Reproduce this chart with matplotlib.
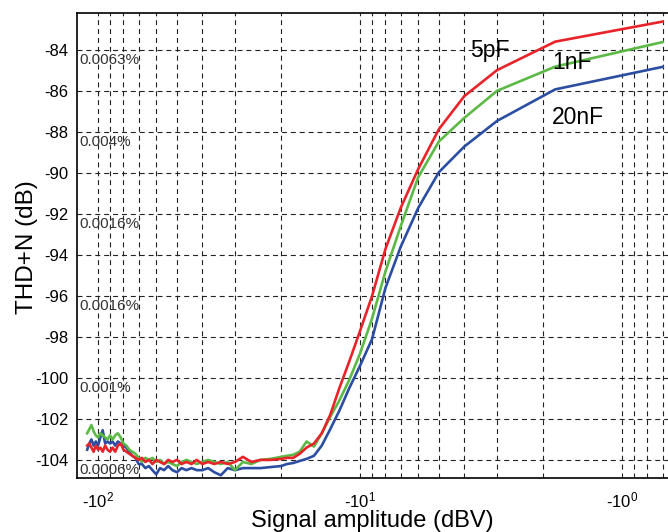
import matplotlib
matplotlib.use('Agg')
import matplotlib.pyplot as plt
from matplotlib.ticker import LogLocator, FixedLocator, FuncFormatter, NullFormatter
import numpy as np

plt.rcParams['font.family'] = ['Liberation Sans', 'DejaVu Sans']
plt.rcParams['mathtext.fontset'] = 'custom'
plt.rcParams['mathtext.rm'] = 'Liberation Sans'
plt.rcParams['mathtext.it'] = 'Liberation Sans'
plt.rcParams['axes.unicode_minus'] = False

# signal amplitude (dBV) - 2 dB steps in the noise floor, 1 dB steps on the rise
sig = [-110, -108, -106, -104, -102, -100, -98, -96, -94, -92,
       -90, -88, -86, -84, -82, -80, -78, -76, -74, -72,
       -70, -68, -66, -64, -62, -60, -58, -56, -54, -52,
       -50, -48, -46, -44, -42, -40, -38, -36, -34, -32,
       -30, -28, -26, -24, -22, -20, -19, -18, -17, -16,
       -15, -14, -13, -12, -11, -10, -9, -8, -7, -6,
       -5, -4, -3, -1.8, -0.7]

thd_5pF = [-103.3, -103.2, -103.4, -103.6, -103.3, -103.5, -103.4, -103.6, -103.3, -103.5,
           -103.6, -103.4, -103.6, -103.3, -103.2, -103.5, -103.6, -103.7, -103.8, -103.9,
           -104.0, -103.9, -104.1, -104.0, -104.2, -104.0, -104.1, -104.2, -104.0, -104.1,
           -104.0, -104.2, -104.1, -104.2, -104.0, -104.2, -104.1, -104.2, -104.1, -104.2,
           -104.1, -103.85, -104.1, -104.0, -104.0, -103.95, -103.9, -103.9, -103.7, -103.4,
           -103.2, -102.7, -101.8, -100.5, -99.2, -97.7, -96.0, -93.7, -91.7, -89.8,
           -87.85, -86.24, -84.97, -83.58, -82.6]

thd_1nF = [-102.7, -102.5, -102.3, -102.6, -102.8, -102.9, -102.7, -102.8, -102.9, -103.0,
           -102.8, -103.0, -102.8, -102.7, -102.9, -103.2, -103.3, -103.5, -103.6, -103.7,
           -103.9, -104.1, -103.9, -104.0, -103.9, -104.1, -104.0, -104.2, -104.1, -104.2,
           -104.3, -104.1, -104.0, -104.1, -104.2, -104.1, -104.0, -104.1, -104.2, -104.1,
           -104.5, -104.1, -104.2, -104.0, -103.95, -103.85, -103.8, -103.75, -103.6, -103.1,
           -103.35, -102.7, -101.9, -101.1, -100.1, -98.8, -97.1, -94.8, -92.6, -90.2,
           -88.45, -87.3, -85.98, -84.8, -83.6]

thd_20nF = [-103.5, -103.2, -103.0, -103.3, -103.1, -103.3, -102.9, -102.55, -103.2, -103.1,
            -103.2, -103.1, -103.3, -103.1, -103.2, -103.3, -103.4, -103.6, -103.8, -103.9,
            -104.2, -104.2, -104.4, -104.3, -104.5, -104.7, -104.4, -104.5, -104.3, -104.5,
            -104.6, -104.4, -104.5, -104.4, -104.5, -104.5, -104.4, -104.6, -104.75, -104.4,
            -104.5, -104.4, -104.4, -104.4, -104.35, -104.3, -104.2, -104.15, -104.05, -103.95,
            -103.8, -103.3, -102.5, -101.6, -100.5, -99.4, -98.1, -95.6, -93.6, -91.7,
            -89.95, -88.7, -87.45, -85.91, -84.81]

pct_labels = ['0.0063%', '0.004%', '0.0016%', '0.0016%', '0.001%', '0.0006%']
pct_levels = [-84, -88, -92, -96, -100, -104]

fig = plt.figure(figsize=(6.68, 5.32), dpi=100)
ax = fig.add_axes([0.1153, 0.102, 0.8847, 0.874])

amp = -np.array(sig)
ax.plot(amp, thd_20nF, color='#2b4ea2', lw=1.9)
ax.plot(amp, thd_1nF, color='#5cb946', lw=1.9)
ax.plot(amp, thd_5pF, color='#e8232a', lw=1.9)

ax.set_xscale('log')
ax.set_xlim(120.3, 0.668)
ax.set_ylim(-104.87, -82.17)

ax.xaxis.set_major_locator(FixedLocator([100, 10, 1]))
ax.xaxis.set_major_formatter(FuncFormatter(lambda v, p: '-10$^{%d}$' % round(np.log10(v))))
ax.xaxis.set_minor_locator(LogLocator(base=10, subs=np.arange(2, 10)))
ax.xaxis.set_minor_formatter(NullFormatter())
ax.set_yticks(np.arange(-104, -83, 2))

ax.grid(True, which='both', axis='x', color='#222222', linestyle=(0, (4.5, 3.5)), lw=0.8)
ax.grid(True, which='major', axis='y', color='#222222', linestyle=(0, (4.5, 3.5)), lw=0.8)
ax.tick_params(axis='both', which='both', length=0, labelsize=12, pad=6)
ax.tick_params(axis='x', pad=9)
ax.spines['right'].set_visible(False)
for s in ['left', 'bottom', 'top']:
    ax.spines[s].set_linewidth(1.2)

for lab, lev in zip(pct_labels, pct_levels):
    ax.text(0.004, lev - 0.15, lab, transform=ax.get_yaxis_transform(), fontsize=11,
            va='top', ha='left', color='#333333')

ax.text(3.19, -84.0, '5pF', fontsize=16.5, ha='center', va='center')
ax.text(1.55, -84.6, '1nF', fontsize=16.5, ha='center', va='center')
ax.text(1.47, -87.3, '20nF', fontsize=16.5, ha='center', va='center')

ax.set_xlabel('Signal amplitude (dBV)', fontsize=17, labelpad=0)
ax.set_ylabel('THD+N (dB)', fontsize=17.5)
ax.yaxis.set_label_coords(-0.066, 0.495)

plt.savefig('out.png', dpi=100)
